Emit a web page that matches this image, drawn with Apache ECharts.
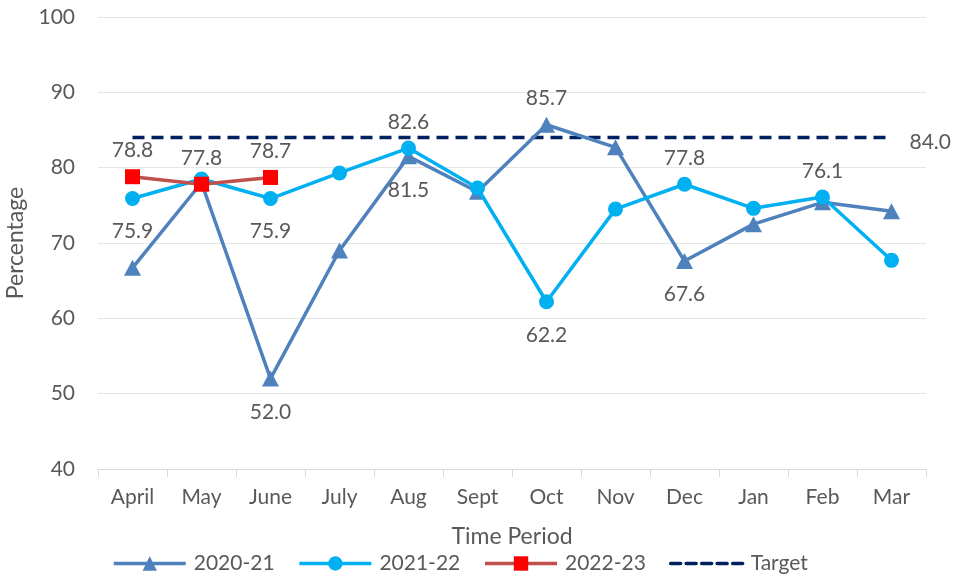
<!DOCTYPE html>
<html>
<head>
<meta charset="utf-8">
<script src="https://cdn.jsdelivr.net/npm/echarts@6/dist/echarts.min.js"></script>
<style>html,body{margin:0;padding:0;background:#fff}#c{width:955px;height:576px}</style>
</head>
<body>
<div id="c"></div>
<script>
var categories = ['April','May','June','July','Aug','Sept','Oct','Nov','Dec','Jan','Feb','Mar'];
var s2020 = [66.7, 78.0, 52.0, 69.0, 81.5, 76.8, 85.7, 82.7, 67.6, 72.5, 75.4, 74.2];
var s2021 = [75.9, 78.5, 75.9, 79.3, 82.6, 77.3, 62.2, 74.5, 77.8, 74.6, 76.1, 67.7];
var s2022 = [78.8, 77.8, 78.7];
var target = [84.0, 84.0, 84.0, 84.0, 84.0, 84.0, 84.0, 84.0, 84.0, 84.0, 84.0, 84.0];
var yTicks = [40, 50, 60, 70, 80, 90, 100];
// which points carry labels
var lab2020 = {2: 'bottom', 4: 'bottom', 6: 'top', 8: 'bottom'};
var lab2021 = {0: 'bottom', 2: 'bottom', 4: 'top', 6: 'bottom', 8: 'top', 10: 'top'};
var lab2022 = {0: 'top', 1: 'top', 2: 'top'};

var FONT = 'Lato, "Open Sans", sans-serif';
var TXT = '#595959';

function withLabels(arr, map, topDist, botDist) {
  return arr.map(function (v, i) {
    if (map[i]) {
      return {value: v, label: {show: true, position: map[i], distance: map[i] === 'top' ? topDist : botDist}};
    }
    return v;
  });
}

var labelStyle = {fontFamily: FONT, fontSize: 21, color: TXT, formatter: function (p) { return p.value.toFixed(1); }};

var chart = echarts.init(document.getElementById('c'));
chart.setOption({
  animation: false,
  backgroundColor: '#fff',
  textStyle: {fontFamily: FONT},
  grid: {left: 98, right: 29, top: 17, bottom: 107, outerBoundsMode: 'none', containLabel: false},
  legend: {
    left: 107, top: 548, itemWidth: 72, itemHeight: 18, itemGap: 23,
    textStyle: {fontFamily: FONT, fontSize: 21, color: TXT, padding: [0, 0, 0, 3]},
    lineStyle: {width: 3.5},
    data: ['2020-21', '2021-22', '2022-23',
      {name: 'Target', itemStyle: {opacity: 0}, lineStyle: {type: [10, 5.5], cap: 'round'}}]
  },
  xAxis: {
    type: 'category', data: categories, boundaryGap: true,
    name: 'Time Period', nameLocation: 'middle', nameGap: 56,
    nameTextStyle: {fontFamily: FONT, fontSize: 23, color: TXT},
    axisLine: {lineStyle: {color: '#D9D9D9', width: 1}},
    axisTick: {show: true, length: 8, lineStyle: {color: '#D9D9D9'}},
    axisLabel: {fontFamily: FONT, fontSize: 21, color: TXT, margin: 18}
  },
  yAxis: {
    type: 'value', min: yTicks[0], max: yTicks[yTicks.length - 1], interval: 10,
    name: 'Percentage', nameLocation: 'middle', nameGap: 67, nameRotate: 90,
    nameTextStyle: {fontFamily: FONT, fontSize: 23, color: TXT},
    axisLine: {show: false}, axisTick: {show: false},
    axisLabel: {fontFamily: FONT, fontSize: 21, color: TXT, margin: 23},
    splitLine: {lineStyle: {color: '#E6E6E6', width: 1}}
  },
  series: [
    {
      name: '2020-21', type: 'line', data: withLabels(s2020, lab2020, 8, 15),
      symbol: 'triangle', symbolSize: [17, 16], z: 2,
      itemStyle: {color: '#4F81BD'}, lineStyle: {color: '#4F81BD', width: 3.5},
      label: Object.assign({show: false}, labelStyle)
    },
    {
      name: '2021-22', type: 'line', data: withLabels(s2021, lab2021, 8, 15),
      symbol: 'circle', symbolSize: 15, z: 3,
      itemStyle: {color: '#00B0F0'}, lineStyle: {color: '#00B0F0', width: 3.5},
      label: Object.assign({show: false}, labelStyle)
    },
    {
      name: '2022-23', type: 'line', data: withLabels(s2022, lab2022, 8, 15),
      symbol: 'rect', symbolSize: 15, z: 4,
      itemStyle: {color: '#FF0000'}, lineStyle: {color: '#C0504D', width: 3.5},
      label: Object.assign({show: false}, labelStyle)
    },
    {
      name: 'Target', type: 'line', data: target,
      symbol: 'none', z: 1,
      itemStyle: {color: '#002060'}, lineStyle: {color: '#002060', width: 3.5, type: [12, 7]},
      endLabel: {show: true, distance: 18, offset: [0, 5], fontFamily: FONT, fontSize: 21, color: TXT,
        formatter: function (p) { return p.value.toFixed(1); }}
    }
  ]
});
</script>
</body>
</html>
